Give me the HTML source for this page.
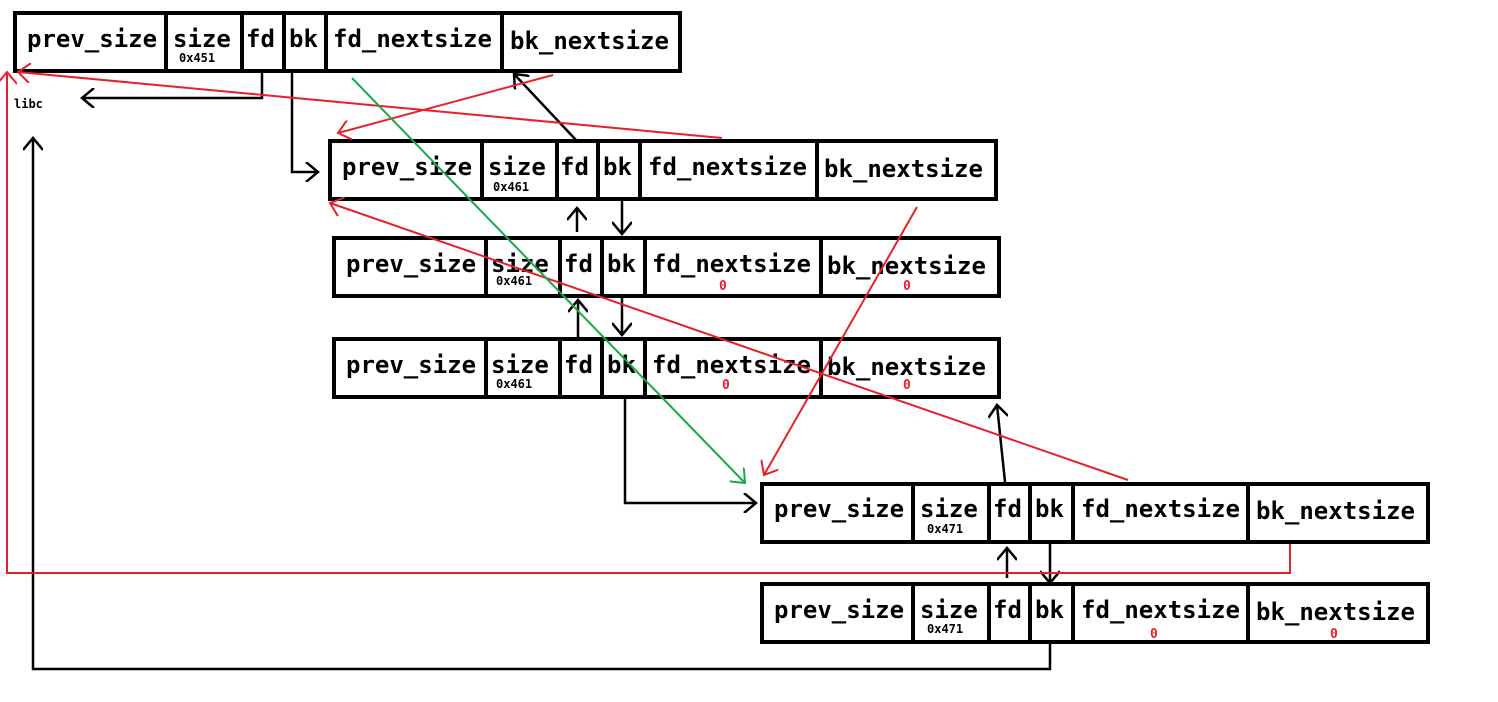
<!DOCTYPE html>
<html><head><meta charset="utf-8"><style>
body{margin:0;background:#fff}
svg{display:block}
.t{font-family:"DejaVu Sans Mono","Liberation Mono",monospace;font-weight:bold;font-size:24px;fill:#000}
.s{font-family:"DejaVu Sans Mono","Liberation Mono",monospace;font-weight:bold;font-size:12px;fill:#000}
.z{font-family:"DejaVu Sans Mono","Liberation Mono",monospace;font-weight:bold;font-size:13px;fill:#e8202a}
</style></head><body>
<svg width="1498" height="702" viewBox="0 0 1498 702" xmlns="http://www.w3.org/2000/svg">
<defs>
<marker id="ak" markerWidth="20" markerHeight="20" refX="14" refY="10" orient="auto" markerUnits="userSpaceOnUse"><polyline points="2,0 14,10 2,20" fill="none" stroke="#000" stroke-width="2.5"/></marker>
<marker id="ar" markerWidth="20" markerHeight="20" refX="14" refY="10" orient="auto" markerUnits="userSpaceOnUse"><polyline points="2,0 14,10 2,20" fill="none" stroke="#e8202a" stroke-width="2"/></marker>
<marker id="ag" markerWidth="20" markerHeight="20" refX="14" refY="10" orient="auto" markerUnits="userSpaceOnUse"><polyline points="2,0 14,10 2,20" fill="none" stroke="#1aa84a" stroke-width="2"/></marker>
</defs>
<g fill="none" stroke="#000" stroke-width="4">
<rect x="15" y="13" width="665" height="58"/>
<path d="M166 13V71M242 13V71M284 13V71M326 13V71M502 13V71"/>
<rect x="330" y="141" width="666" height="58"/>
<path d="M482 141V199M557 141V199M598 141V199M640 141V199M817 141V199"/>
<rect x="334" y="238" width="665" height="58"/>
<path d="M486 238V296M560 238V296M602 238V296M645 238V296M821 238V296"/>
<rect x="334" y="339" width="665" height="58"/>
<path d="M486 339V397M560 339V397M602 339V397M645 339V397M821 339V397"/>
<rect x="762" y="484" width="666" height="58"/>
<path d="M913 484V542M989 484V542M1030 484V542M1073 484V542M1248 484V542"/>
<rect x="762" y="584" width="666" height="58"/>
<path d="M913 584V642M989 584V642M1030 584V642M1073 584V642M1248 584V642"/>
</g>
<g class="t">
<text x="27" y="47">prev_size</text><text x="173" y="47">size</text><text x="246" y="47">fd</text><text x="289" y="47">bk</text><text x="333" y="47">fd_nextsize</text><text x="510" y="49">bk_nextsize</text>
<text x="342" y="175">prev_size</text><text x="488" y="175">size</text><text x="560" y="175">fd</text><text x="603" y="175">bk</text><text x="648" y="175">fd_nextsize</text><text x="824" y="177">bk_nextsize</text>
<text x="346" y="272">prev_size</text><text x="491" y="272">size</text><text x="564" y="272">fd</text><text x="607" y="272">bk</text><text x="652" y="272">fd_nextsize</text><text x="827" y="274">bk_nextsize</text>
<text x="346" y="373">prev_size</text><text x="491" y="373">size</text><text x="564" y="373">fd</text><text x="607" y="373">bk</text><text x="652" y="373">fd_nextsize</text><text x="827" y="375">bk_nextsize</text>
<text x="774" y="517">prev_size</text><text x="920" y="517">size</text><text x="993" y="517">fd</text><text x="1035" y="517">bk</text><text x="1081" y="517">fd_nextsize</text><text x="1256" y="519">bk_nextsize</text>
<text x="774" y="618">prev_size</text><text x="920" y="618">size</text><text x="993" y="618">fd</text><text x="1035" y="618">bk</text><text x="1081" y="618">fd_nextsize</text><text x="1256" y="620">bk_nextsize</text>
</g>
<g class="s">
<text x="179" y="62">0x451</text><text x="493" y="191">0x461</text><text x="496" y="285">0x461</text><text x="496" y="388">0x461</text><text x="927" y="533">0x471</text><text x="927" y="633">0x471</text>
<text x="14" y="108">libc</text>
</g>
<g class="z">
<text x="719" y="290">0</text><text x="903" y="290">0</text><text x="722" y="389">0</text><text x="903" y="389">0</text><text x="1150" y="638">0</text><text x="1330" y="638">0</text>
</g>
<g fill="none" stroke="#000" stroke-width="2.5">
<polyline points="262,73 262,98 82,98" marker-end="url(#ak)"/>
<polyline points="292,73 292,172 318,172" marker-end="url(#ak)"/>
<line x1="576" y1="140" x2="514" y2="74" marker-end="url(#ak)"/>
<line x1="577" y1="232" x2="577" y2="208" marker-end="url(#ak)"/>
<line x1="622" y1="201" x2="622" y2="234" marker-end="url(#ak)"/>
<line x1="578" y1="337" x2="578" y2="300" marker-end="url(#ak)"/>
<line x1="622" y1="298" x2="622" y2="335" marker-end="url(#ak)"/>
<polyline points="625,399 625,503 756,503" marker-end="url(#ak)"/>
<line x1="1005" y1="482" x2="997" y2="405" marker-end="url(#ak)"/>
<line x1="1007" y1="578" x2="1007" y2="548" marker-end="url(#ak)"/>
<line x1="1050" y1="544" x2="1050" y2="583" marker-end="url(#ak)"/>
<polyline points="1050,644 1050,669 33,669 33,138" marker-end="url(#ak)"/>
</g>
<g fill="none" stroke="#e8202a" stroke-width="2">
<polyline points="1290,544 1290,573 7,573 7,72" marker-end="url(#ar)"/>
<line x1="722" y1="138" x2="18" y2="72" marker-end="url(#ar)"/>
<line x1="553" y1="75" x2="338" y2="133" marker-end="url(#ar)"/>
<line x1="917" y1="207" x2="764" y2="475" marker-end="url(#ar)"/>
<line x1="1128" y1="480" x2="330" y2="203" marker-end="url(#ar)"/>
</g>
<line x1="352" y1="78" x2="745" y2="483" stroke="#1aa84a" stroke-width="2" marker-end="url(#ag)"/>
</svg>
</body></html>
